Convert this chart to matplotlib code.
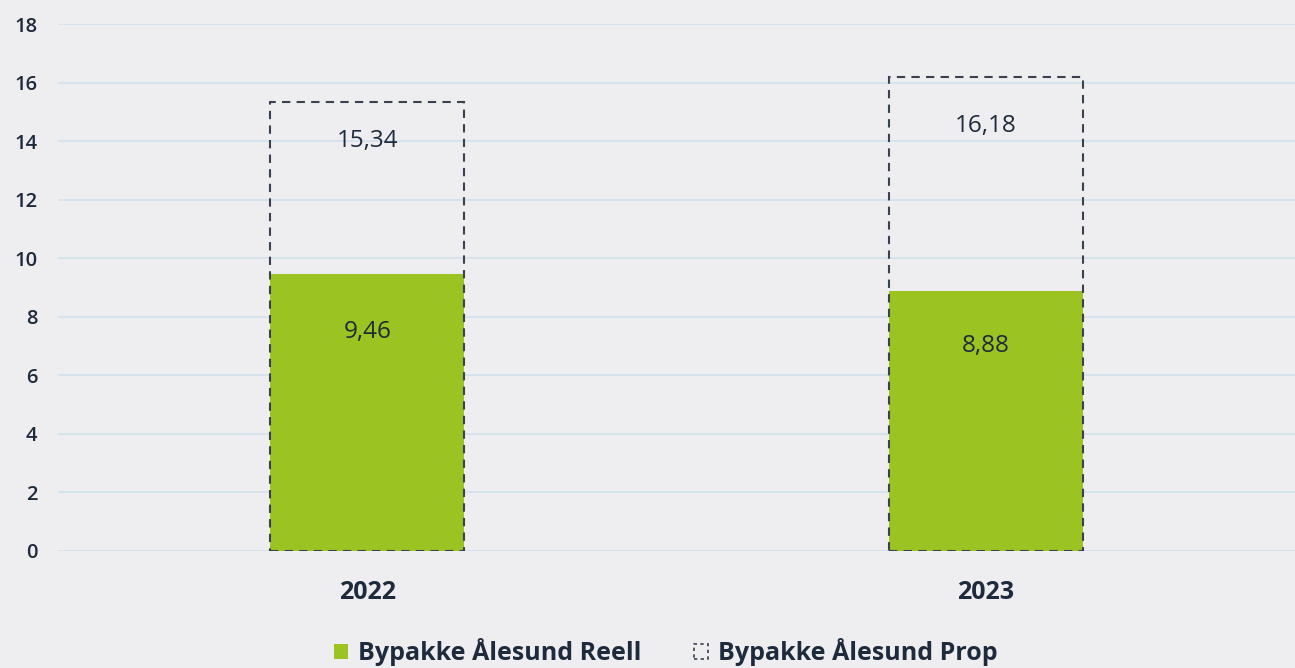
import matplotlib.pyplot as plt
from matplotlib.patches import Patch

plt.rcParams['font.family'] = ['Open Sans', 'DejaVu Sans']

# data
years = ['2022', '2023']
reell = [9.46, 8.88]
prop = [15.34, 16.18]
reell_labels = ['9,46', '8,88']
prop_labels = ['15,34', '16,18']
yticks = [0, 2, 4, 6, 8, 10, 12, 14, 16, 18]

bg = '#eeeef1'
green = '#9bc322'
navy = '#1e2b3c'
dash_col = '#3a4150'
grid_col = '#d3e1ec'

fig = plt.figure(figsize=(12.95, 6.68), dpi=100, facecolor=bg)
ax = fig.add_axes([58 / 1295, 1 - 551 / 668, 1 - 58 / 1295, (551 - 24) / 668])
ax.set_facecolor(bg)

x = list(range(len(years)))
w = 0.313

ax.bar(x, reell, width=w, color=green, zorder=2)
ax.bar(x, prop, width=w, facecolor='none', edgecolor=dash_col,
       linestyle=(0, (4, 3)), linewidth=1.5, zorder=3)

# verdietiketter
for i in x:
    ax.text(i, reell[i] * 0.79, reell_labels[i], ha='center', va='center',
            fontsize=17.5, color=navy, zorder=4)
    ax.text(i, reell[i] + (prop[i] - reell[i]) * 0.77, prop_labels[i], ha='center', va='center',
            fontsize=17.5, color=navy, zorder=4)

ax.set_xlim(-0.5, 1.5)
ax.set_ylim(0, 18)
ax.set_yticks(yticks)
ax.set_yticklabels([str(t) for t in yticks], fontsize=14.5, color=navy, fontweight='semibold')
ax.set_xticks(x)
ax.set_xticklabels(years, fontsize=18, color=navy, fontweight='bold')
ax.tick_params(axis='y', length=0, pad=15)
ax.tick_params(axis='x', length=0, pad=21)
ax.grid(axis='y', color=grid_col, linewidth=1.2, zorder=0)
ax.set_axisbelow(True)
for s in ax.spines.values():
    s.set_visible(False)

handles = [Patch(facecolor=green, edgecolor='none', label='Bypakke Ålesund Reell'),
           Patch(facecolor='none', edgecolor=dash_col, linestyle=(0, (2, 2)), linewidth=1.2,
                 label='Bypakke Ålesund Prop')]
fig.legend(handles=handles, loc='center', bbox_to_anchor=(0.514, 1 - 652 / 668), ncol=2,
           frameon=False, handlelength=0.56, handleheight=0.56, handletextpad=0.4,
           columnspacing=2.1, prop={'size': 18, 'weight': 'bold'}, labelcolor=navy)

fig.savefig('out.png', dpi=100, facecolor=bg)
